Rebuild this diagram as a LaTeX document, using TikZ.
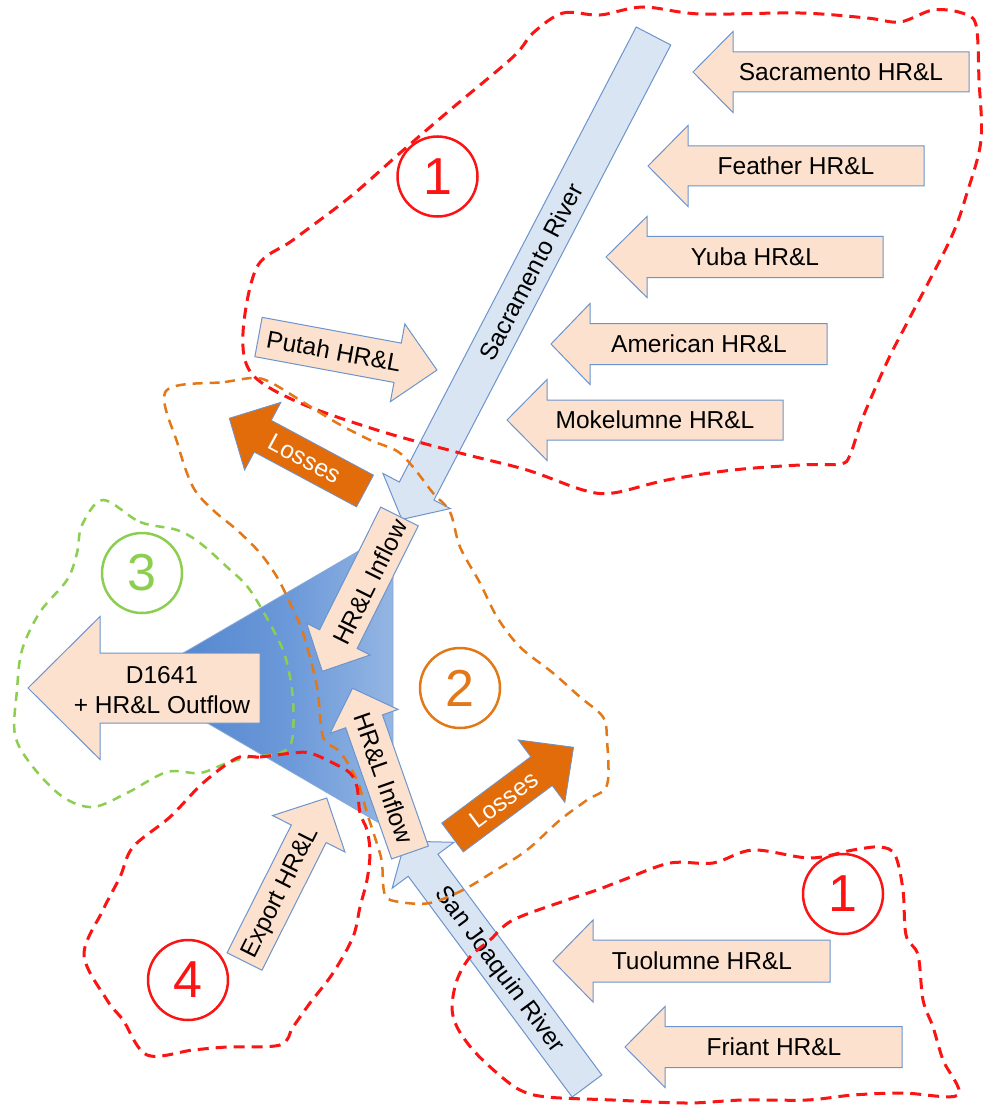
\documentclass[tikz,border=0pt]{standalone}
\usepackage{fontspec}
\setmainfont{Liberation Sans}
\usetikzlibrary{calc}
\definecolor{peach}{RGB}{252,226,206}
\definecolor{edgeblue}{RGB}{108,148,205}
\definecolor{riverblue}{RGB}{218,229,243}
\definecolor{lossorange}{RGB}{227,108,10}
\definecolor{dred}{RGB}{250,20,20}
\definecolor{dorange}{RGB}{226,120,24}
\definecolor{dgreen}{RGB}{140,206,80}
\pgfdeclarehorizontalshading{trishade}{100bp}{
  rgb(0bp)=(0.27,0.47,0.78);
  rgb(25bp)=(0.30,0.50,0.80);
  rgb(55bp)=(0.42,0.60,0.85);
  rgb(80bp)=(0.62,0.74,0.90);
  rgb(100bp)=(0.80,0.86,0.95)}
\newcommand{\blockarrow}[8]{%
  \begin{scope}[shift={#3}, rotate=#4]
    \draw[#2] (0,-#6) -- ({#5-#8},-#6) -- ({#5-#8},-#7) -- (#5,0) -- ({#5-#8},#7) -- ({#5-#8},#6) -- (0,#6) -- cycle;
    \coordinate (#1-tail) at (0,0);
    \coordinate (#1-tip) at (#5,0);
  \end{scope}}
\tikzset{
  peacharrow/.style={fill=peach, draw=edgeblue, line width=1pt, line join=miter},
  riverarrow/.style={fill=riverblue, draw=edgeblue, line width=1pt, line join=miter},
  lossarrow/.style={fill=lossorange, draw=edgeblue, line width=0.8pt, line join=miter},
  lbl/.style={font=\fontsize{24.5}{30}\selectfont, inner sep=0pt, text=black},
  wlbl/.style={font=\fontsize{24.5}{30}\selectfont, inner sep=0pt, text=white},
  numcircle/.style={circle, line width=2.5pt, minimum size=80pt, inner sep=0pt, font=\fontsize{52}{52}\selectfont},
  redzone/.style={draw=dred, line width=3pt, dash pattern=on 11pt off 7pt},
  orangezone/.style={draw=dorange, line width=2.5pt, dash pattern=on 10pt off 7pt},
  greenzone/.style={draw=dgreen, line width=2.5pt, dash pattern=on 9pt off 7pt},
}
\begin{document}
\begin{tikzpicture}[x=1pt, y=-1pt]
\useasboundingbox (0,0) rectangle (982,1107);
\fill[white] (0,0) rectangle (982,1107);

% central triangle
\shade[shading=trishade] (135,681) -- (393,531) -- (393,831) -- cycle;
\draw[edgeblue!80, line width=0.8pt] (135,681) -- (393,531) -- (393,831) -- cycle;

% rivers
\blockarrow{sac}{riverarrow}{(653.5,36)}{242.5}{545}{19.5}{38}{32}
\node[lbl, rotate=62.5] (sactext) at (531,272) {Sacramento River};
\blockarrow{sj}{riverarrow}{(587,1086)}{126.6}{305}{18.5}{38.5}{30}
\node[lbl, rotate=-53.4] (sjtext) at (499,970) {San Joaquin River};

% inflows to triangle
\blockarrow{inup}{peacharrow}{(399.5,516.5)}{243.5}{173}{21}{35.5}{36}
\node[lbl, rotate=63.5] (inuptext) at (370,582) {HR\&L Inflow};
\blockarrow{indn}{peacharrow}{(410,852.5)}{109.3}{174}{19.5}{36}{35}
\node[lbl, rotate=-70.7] (indntext) at (384,778) {HR\&L Inflow};

% tributary arrows
\blockarrow{sacr}{peacharrow}{(969,72)}{180}{276}{20}{40.5}{40}
\node[lbl] (sacrtext) at (841,72) {Sacramento HR\&L};
\blockarrow{feat}{peacharrow}{(924,166)}{180}{276}{20}{40.5}{40}
\node[lbl] (feattext) at (796,166) {Feather HR\&L};
\blockarrow{yuba}{peacharrow}{(883,257)}{180}{277}{20.5}{40.5}{41}
\node[lbl] (yubatext) at (755,257) {Yuba HR\&L};
\blockarrow{amer}{peacharrow}{(827,344)}{180}{276}{20.5}{40.5}{39}
\node[lbl] (amertext) at (699,344) {American HR\&L};
\blockarrow{moke}{peacharrow}{(783,420)}{180}{276}{20}{40.5}{40}
\node[lbl] (moketext) at (655,420) {Mokelumne HR\&L};
\blockarrow{tuol}{peacharrow}{(830,961)}{180}{277}{21}{41}{40}
\node[lbl] (tuoltext) at (702,961) {Tuolumne HR\&L};
\blockarrow{fria}{peacharrow}{(902,1047)}{180}{277}{20.5}{40.5}{40}
\node[lbl] (friatext) at (774,1047) {Friant HR\&L};

\blockarrow{putah}{peacharrow}{(258.5,337)}{-10.5}{181.5}{20}{39.5}{40}
\node[lbl, rotate=-10.5] (putahtext) at (334,351) {Putah HR\&L};
\blockarrow{expo}{peacharrow}{(244.5,961.5)}{63.3}{183}{19.5}{40.5}{40}
\node[lbl, rotate=63.3] (expotext) at (281,893) {Export HR\&L};

\blockarrow{d1641}{peacharrow}{(260,688)}{180}{232}{35}{71.5}{72}
\node[lbl, align=center] (d1641text) at (162,690) {D1641\\+ HR\&L Outflow};

% losses
\blockarrow{lossup}{lossarrow}{(365,491)}{151.8}{154}{18}{38.5}{38}
\node[wlbl, rotate=-28.2] (lossuptext) at (305,459) {Losses};
\blockarrow{lossdn}{lossarrow}{(452.5,837.5)}{36.7}{151}{18}{39}{40}
\node[wlbl, rotate=36.7] (lossdntext) at (504,800) {Losses};

% zones
\draw[redzone] plot[smooth cycle, tension=0.55] coordinates {
(533,33) (563,13) (600,15) (643,7) (700,14) (800,13) (867,18) (900,22) (933,10) (962,13)
(976,25) (979,80) (981,140) (967,193) (950,240) (907,323) (888,360) (863,417) (850,455)
(840,464) (800,465) (733,470) (667,480) (613,493) (583,490) (527,470) (460,453) (380,431) (300,403)
(252,374) (243,333) (257,267) (293,240) (350,197) (400,153) (450,110) (513,57)};

\draw[orangezone] plot[smooth cycle, tension=0.55] coordinates {
(166,391) (225,382) (253,378) (270,382) (303,402) (337,423) (370,440) (397,451) (413,467)
(433,493) (450,512) (460,547) (480,583) (497,617) (520,647) (553,673) (580,697) (603,717)
(607,740) (607,785) (587,800) (560,820) (527,850) (493,872) (463,890) (430,903) (400,902)
(385,895) (382,863) (378,847) (367,813) (357,780) (340,752) (323,737) (317,687) (303,633)
(290,603) (277,577) (260,553) (237,530) (213,510) (193,487) (178,445)};

\draw[greenzone] plot[smooth cycle, tension=0.55] coordinates {
(103,500) (140,522) (177,530) (200,543) (227,567) (250,590) (277,637) (287,663) (293,700)
(292,740) (280,753) (250,757) (227,763) (200,773) (167,772) (127,793) (93,807) (63,797)
(33,767) (15,735) (17,690) (22,650) (40,612) (67,580) (77,553) (82,525)};

\draw[redzone] plot[smooth cycle, tension=0.55] coordinates {
(237,758) (260,757) (293,753) (310,753) (333,763) (350,773) (357,787) (360,813) (367,830)
(370,853) (367,880) (360,907) (353,937) (333,973) (310,1003) (293,1027) (280,1045)
(227,1047) (193,1050) (147,1055) (123,1020) (107,1000) (84,955) (103,910) (120,877)
(133,847) (170,817) (203,783)};

\draw[redzone] plot[smooth cycle, tension=0.55] coordinates {
(623,880) (670,863) (713,863) (753,850) (810,858) (853,850) (880,847) (895,855) (903,890)
(906,935) (918,955) (923,1000) (933,1027) (943,1060) (958,1095) (903,1093) (853,1095)
(807,1100) (743,1100) (687,1103) (613,1100) (547,1097) (520,1090) (497,1073) (473,1050)
(457,1027) (452,1007) (457,980) (470,957) (490,940) (513,920) (567,900) (597,890)};

% numbered circles
\node[numcircle, draw=dred, text=dred] (z1a) at (437.5,176.5) {1};
\node[numcircle, draw=dorange, text=dorange] (z2) at (460,688) {2};
\node[numcircle, draw=dgreen, text=dgreen] (z3) at (142,573) {3};
\node[numcircle, draw=dred, text=dred] (z4) at (188,980) {4};
\node[numcircle, draw=dred, text=dred] (z1b) at (843,894) {1};
\end{tikzpicture}
\end{document}
